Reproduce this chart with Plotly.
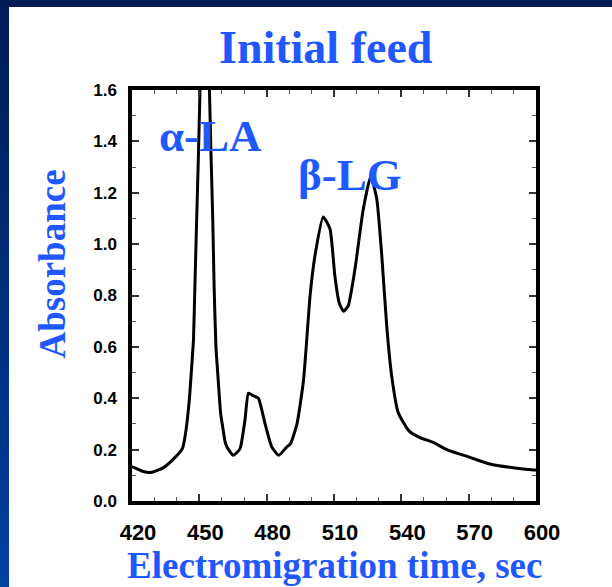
import plotly.graph_objects as go

# Electropherogram of the initial feed (absorbance vs. electromigration time)
time_s = [420.0, 420.5, 425.0, 429.0, 434.0, 439.0, 442.5, 443.8, 445.5, 446.5,
          447.4, 448.0, 448.8, 449.6, 450.3, 452.3, 454.5, 455.2, 456.0, 456.6,
          457.4, 458.1, 459.5, 460.2, 461.5, 462.3, 465.1, 468.1, 470.3, 471.9,
          474.0, 476.3, 479.3, 482.3, 485.4, 488.9, 490.6, 493.5, 496.4, 499.4,
          501.6, 505.2, 508.2, 510.4, 512.3, 514.2, 516.3, 519.3, 523.0, 526.4,
          529.1, 531.3, 533.5, 535.7, 538.6, 543.5, 548.3, 554.2, 560.8, 570.5,
          579.4, 588.3, 598.8, 600.0]
absorbance = [0.132, 0.132, 0.115, 0.112, 0.130, 0.168, 0.205, 0.26, 0.39, 0.51,
              0.63, 0.83, 1.09, 1.35, 1.60, 2.30, 1.60, 1.35, 1.09, 0.83,
              0.60, 0.51, 0.34, 0.30, 0.23, 0.21, 0.178, 0.203, 0.313, 0.42,
              0.41, 0.40, 0.30, 0.21, 0.178, 0.21, 0.222, 0.30, 0.469, 0.805,
              0.96, 1.106, 1.06, 0.875, 0.772, 0.739, 0.759, 0.90, 1.134, 1.265,
              1.173, 0.953, 0.681, 0.487, 0.344, 0.272, 0.247, 0.228, 0.198, 0.17,
              0.144, 0.131, 0.121, 0.121]

# Peak labels: (text, time at left edge of label, absorbance at label middle)
peak_labels = ["α-LA", "β-LG"]
peak_label_x = [431.3, 493.0]
peak_label_y = [1.42, 1.27]

x_ticks = [420, 450, 480, 510, 540, 570, 600]
y_ticks = [0.0, 0.2, 0.4, 0.6, 0.8, 1.0, 1.2, 1.4, 1.6]

W, H = 612, 587
L, R, T, B = 132, 76, 90, 86
PW, PH = W - L - R, H - T - B

BLUE = "#1F58FF"
SERIF = "Liberation Serif"
SANS = "Liberation Sans"


def px_x(px):
    return (px - L) / PW


def px_y(py):
    return (H - B - py) / PH


fig = go.Figure()
fig.add_trace(go.Scatter(
    x=time_s, y=absorbance, mode="lines",
    line=dict(color="black", width=3.0, shape="spline", smoothing=0.5),
    hoverinfo="skip", showlegend=False,
))

axis_common = dict(
    showline=True, linewidth=3.5, linecolor="black", mirror="allticks",
    ticks="inside", ticklen=7, tickwidth=1.5, tickcolor="#333333",
    showgrid=False, zeroline=False,
)

fig.update_xaxes(
    range=[420, 600], tickmode="array", tickvals=x_ticks,
    ticktext=[str(v) for v in x_ticks],
    minor=dict(dtick=10, tick0=420, ticks="inside", ticklen=4,
               tickwidth=1.2, tickcolor="#555555"),
    tickfont=dict(family=SANS, size=22, color="black", weight="bold"),
    ticklabelshift=6, ticklabelstandoff=9,
    **axis_common,
)
fig.update_yaxes(
    range=[0, 1.6], tickmode="array", tickvals=y_ticks,
    ticktext=[f"{v:.1f}" for v in y_ticks],
    minor=dict(dtick=0.1, tick0=0, ticks="inside", ticklen=4,
               tickwidth=1.2, tickcolor="#555555"),
    tickfont=dict(family=SANS, size=17, color="black", weight="bold"),
    ticklabelstandoff=8,
    **axis_common,
)

annotations = [
    dict(text="Initial feed", x=px_x(326), y=px_y(47.8),
         xanchor="center", yanchor="middle",
         font=dict(family=SERIF, size=46, color=BLUE, weight="bold")),
    dict(text="Electromigration time, sec", x=px_x(334.5), y=px_y(565.5),
         xanchor="center", yanchor="middle",
         font=dict(family=SERIF, size=37, color=BLUE, weight="bold")),
    dict(text="Absorbance", x=px_x(52), y=px_y(264.5), textangle=-90,
         xanchor="center", yanchor="middle",
         font=dict(family=SERIF, size=37, color=BLUE, weight="bold")),
]
for txt, lx, ly in zip(peak_labels, peak_label_x, peak_label_y):
    annotations.append(dict(
        text=txt, x=lx, y=ly, xref="x", yref="y",
        xanchor="left", yanchor="middle",
        font=dict(family=SERIF, size=45, color=BLUE, weight="bold"),
    ))
for a in annotations:
    a.setdefault("xref", "paper")
    a.setdefault("yref", "paper")
    a["showarrow"] = False

# Slide frame: dark band along the top, shaded band along the left edge
shapes = [dict(type="rect", xref="paper", yref="paper", layer="above",
               x0=px_x(0), x1=px_x(W), y0=px_y(0), y1=px_y(7),
               fillcolor="#001C55", line=dict(width=0))]
n_strips = 40
top_rgb = (0, 28, 85)
bot_rgb = (0, 64, 160)
for i in range(n_strips):
    f = (i + 0.5) / n_strips
    c = tuple(round(a + (b - a) * f) for a, b in zip(top_rgb, bot_rgb))
    y0 = 7 + (H - 7) * i / n_strips
    y1 = 7 + (H - 7) * (i + 1) / n_strips + 0.5
    shapes.append(dict(type="rect", xref="paper", yref="paper", layer="above",
                       x0=px_x(0), x1=px_x(9), y0=px_y(y0), y1=px_y(y1),
                       fillcolor=f"rgb{c}", line=dict(width=0)))

fig.update_layout(
    width=W, height=H,
    margin=dict(l=L, r=R, t=T, b=B, pad=0),
    paper_bgcolor="white", plot_bgcolor="white",
    annotations=annotations, shapes=shapes,
    showlegend=False,
)

fig.write_html("out.html")
